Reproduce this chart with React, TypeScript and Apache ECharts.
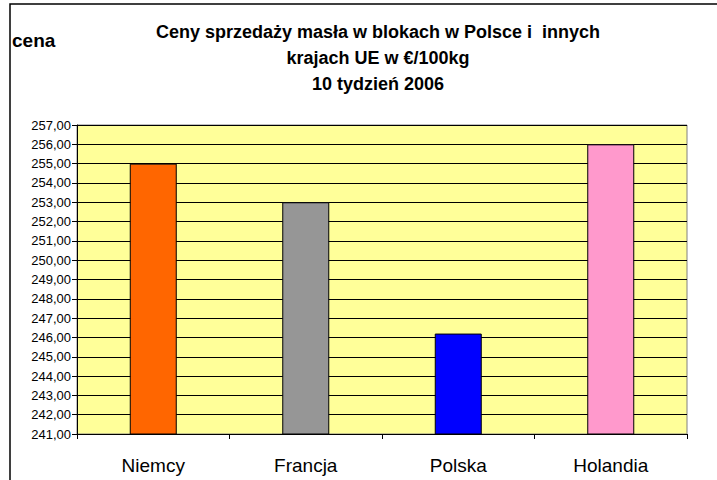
import React, { useEffect, useRef } from "react";
import * as echarts from "echarts";

const categories = ["Niemcy", "Francja", "Polska", "Holandia"];
const prices = [255.0, 253.0, 246.2, 256.0];
const barColors = ["#FF6600", "#969696", "#0000FF", "#FF99CC"];
const titleLines = [
  "Ceny sprzedaży masła w blokach w Polsce i  innych",
  "krajach UE w €/100kg",
  "10 tydzień 2006",
];
const yAxisName = "cena";
const yMin = 241;
const yMax = 257;
const yStep = 1;

const FONT = "'Liberation Sans', Arial, sans-serif";

export default function App() {
  const ref = useRef<HTMLDivElement>(null);
  useEffect(() => {
    if (!ref.current) return;
    const chart = echarts.init(ref.current, null, { renderer: "svg" });
    chart.setOption({
      animation: false,
      backgroundColor: "#FFFFFF",
      textStyle: { fontFamily: FONT },
      title: {
        text: titleLines.join("\n"),
        left: 373,
        textAlign: "center",
        top: 14,
        textStyle: {
          fontFamily: FONT,
          fontSize: 18,
          fontWeight: "bold",
          color: "#000",
          lineHeight: 26,
        },
      },
      graphic: [
        {
          type: "rect",
          shape: { x: 10, y: 4, width: 730, height: 500 },
          style: { fill: "none", stroke: "#000", lineWidth: 1.5 },
          silent: true,
        },
        {
          type: "text",
          left: 12,
          top: 31,
          style: {
            text: yAxisName,
            fontFamily: FONT,
            fontSize: 19,
            fontWeight: "bold",
            fill: "#000",
          },
        },
      ],
      grid: {
        left: 77,
        top: 125,
        right: 30,
        bottom: 46,
        show: true,
        backgroundColor: "#FFFF99",
        borderColor: "#808080",
        borderWidth: 1,
      },
      xAxis: {
        type: "category",
        data: categories,
        boundaryGap: true,
        axisLine: { lineStyle: { color: "#000", width: 1 } },
        axisTick: { show: true, inside: false, length: 5, lineStyle: { color: "#000" } },
        axisLabel: {
          fontFamily: FONT,
          fontSize: 19,
          color: "#000",
          margin: 22,
        },
        splitLine: { show: false },
      },
      yAxis: {
        type: "value",
        min: yMin,
        max: yMax,
        interval: yStep,
        axisLine: { show: true, lineStyle: { color: "#000", width: 1 } },
        axisTick: { show: true, inside: false, length: 5, lineStyle: { color: "#000" } },
        axisLabel: {
          fontFamily: FONT,
          fontSize: 13,
          color: "#000",
          margin: 6,
          formatter: (v: number) => v.toFixed(2).replace(".", ","),
        },
        splitLine: { show: true, lineStyle: { color: "#000", width: 1 } },
      },
      series: [
        {
          type: "bar",
          data: prices.map((v, i) => ({
            value: v,
            itemStyle: { color: barColors[i] },
          })),
          barWidth: 47,
          itemStyle: { borderColor: "#000", borderWidth: 1 },
        },
      ],
    });
    return () => chart.dispose();
  }, []);
  return (
    <div
      ref={ref}
      style={{ position: "fixed", left: 0, top: 0, width: 717, height: 480 }}
    />
  );
}
